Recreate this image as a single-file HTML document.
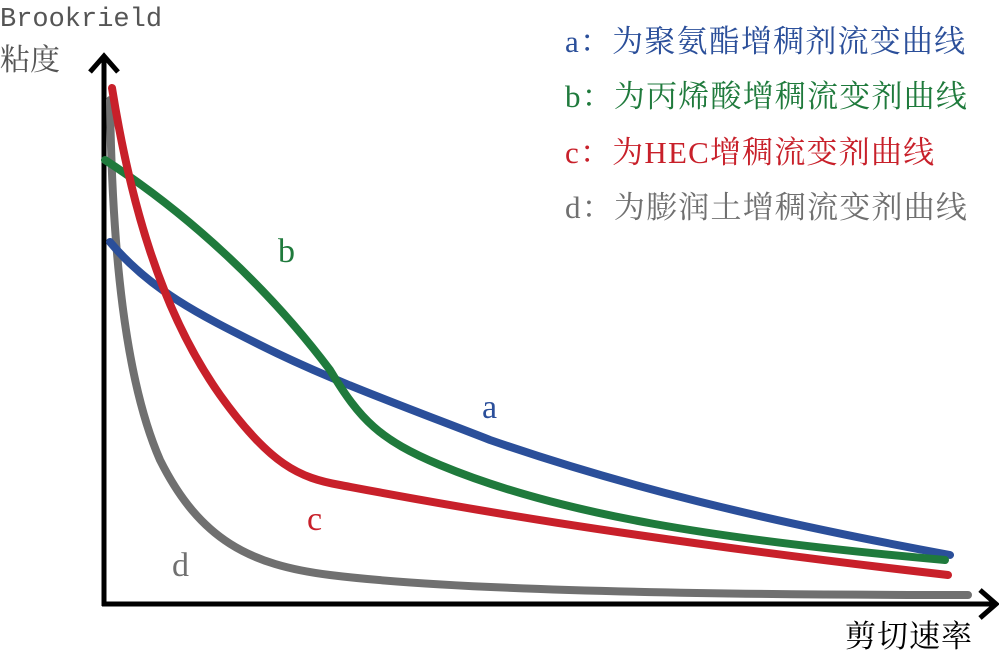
<!DOCTYPE html>
<html><head><meta charset="utf-8"><style>
body{margin:0;background:#fff;}
svg{display:block}
text{font-family:"Liberation Serif","Noto Serif CJK SC",serif;}
</style></head><body>
<svg width="999" height="651" viewBox="0 0 999 651" xmlns="http://www.w3.org/2000/svg">
<text x="0" y="26" font-size="27" fill="#555" style="font-family:'Liberation Mono',monospace">Brookrield</text>
<text x="0" y="70" font-size="30" fill="#555">粘度</text>
<g stroke="#000" stroke-width="5" fill="none">
<line x1="104" y1="56" x2="104" y2="606"/>
<line x1="102" y1="604" x2="996" y2="604"/>
<polyline points="90,72 104,56 118,72"/>
<polyline points="980,590 996,604 980,618"/>
</g>
<g fill="none" stroke-width="8" stroke-linecap="round" stroke-linejoin="round">
<path stroke="#707070" d="M110,100 C112,250 125,380 160,460 C200,540 250,565 330,575 C450,590 700,595 968,595"/>
<path stroke="#2b4f9a" d="M110,242 C150,290 200,315 260,345 C330,380 400,405 490,440 C620,485 760,520 950,555"/>
<path stroke="#1f7a3c" d="M105,160 C190,215 270,290 330,370 C360,420 380,440 440,465 C560,515 720,540 945,560"/>
<path stroke="#c8202a" d="M112,88 C130,200 160,310 220,395 C270,465 300,478 340,485 C420,500 600,535 948,575"/>
</g>
<g font-size="31" letter-spacing="1.2">
<text x="565" y="52" fill="#2b4f9a">a：为聚氨酯增稠剂流变曲线</text>
<text x="565" y="107" fill="#1f7a3c">b：为丙烯酸增稠流变剂曲线</text>
<text x="565" y="163" fill="#c8202a">c：为HEC增稠流变剂曲线</text>
<text x="565" y="218" fill="#707070">d：为膨润土增稠流变剂曲线</text>
</g>
<g font-size="34">
<text x="278" y="262" fill="#1f7a3c">b</text>
<text x="482" y="418" fill="#2b4f9a">a</text>
<text x="307" y="530" fill="#c8202a">c</text>
<text x="172" y="576" fill="#707070">d</text>
</g>
<text x="845" y="647" font-size="31" letter-spacing="1" fill="#000">剪切速率</text>
</svg>
</body></html>
